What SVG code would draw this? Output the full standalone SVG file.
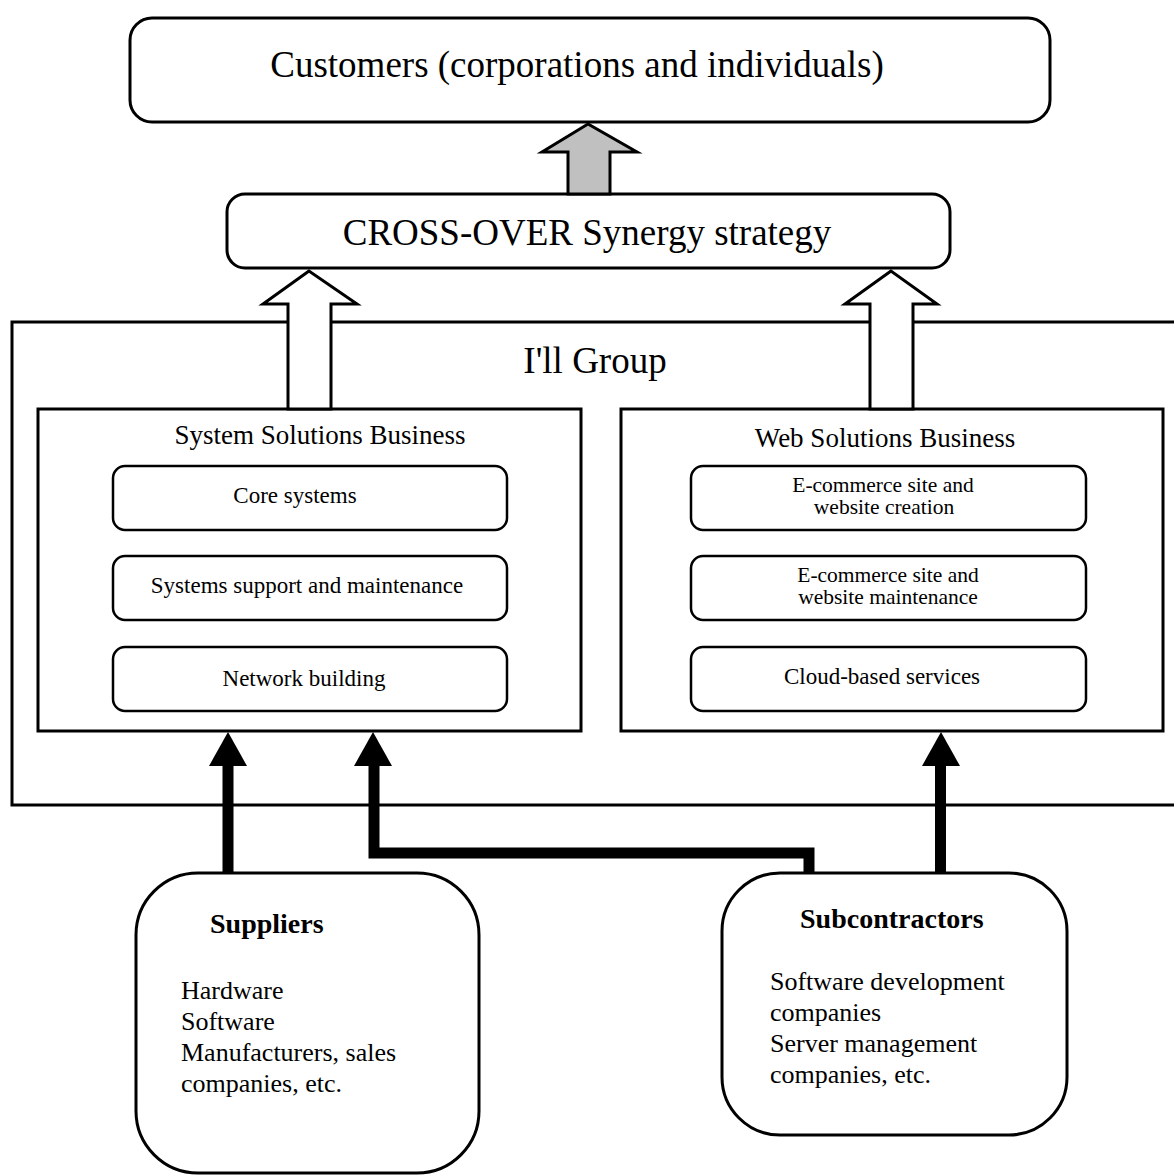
<svg xmlns="http://www.w3.org/2000/svg" width="1174" height="1175" viewBox="0 0 1174 1175">
<style>
text{font-family:"Liberation Serif","Times New Roman",serif;fill:#000}
.box{fill:#fff;stroke:#000;stroke-width:3}
.sub{fill:#fff;stroke:#000;stroke-width:2.5}
.big{font-size:37px;text-anchor:middle}
.hdr{font-size:27px;text-anchor:middle}
.item{font-size:23px;text-anchor:middle}
.item2{font-size:21.5px;text-anchor:middle}
.bold{font-size:28px;font-weight:bold}
.body{font-size:26px}
.hollow{fill:#fff;stroke:#000;stroke-width:3;stroke-linejoin:miter}
.black{fill:#000}
.thick{fill:none;stroke:#000;stroke-width:11;stroke-linejoin:miter}
</style>
<rect width="1174" height="1175" fill="#fff"/>
<g id="customers">
<rect class="box" x="130" y="18" width="920" height="104" rx="22"/>
<text class="big" x="577" y="77">Customers (corporations and individuals)</text>
</g>
<g id="ill-group">
<rect class="box" x="12" y="322" width="1175" height="483"/>
<text class="big" x="595" y="373">I'll Group</text>
</g>
<g id="crossover">
<rect class="box" x="227" y="194" width="723" height="74" rx="18"/>
<text class="big" x="587" y="245">CROSS-OVER Synergy strategy</text>
</g>
<g id="system-solutions">
<rect class="box" x="38" y="409" width="543" height="322"/>
<text class="hdr" x="320" y="444">System Solutions Business</text>
</g>
<g id="core-systems">
<rect class="sub" x="113" y="466" width="394" height="64" rx="12"/>
<text class="item" x="295" y="503">Core systems</text>
</g>
<g id="systems-support">
<rect class="sub" x="113" y="556" width="394" height="64" rx="12"/>
<text class="item" x="307" y="593">Systems support and maintenance</text>
</g>
<g id="network-building">
<rect class="sub" x="113" y="647" width="394" height="64" rx="12"/>
<text class="item" x="304" y="686">Network building</text>
</g>
<g id="web-solutions">
<rect class="box" x="621" y="409" width="542" height="322"/>
<text class="hdr" x="885" y="447">Web Solutions Business</text>
</g>
<g id="ecommerce-creation">
<rect class="sub" x="691" y="466" width="395" height="64" rx="12"/>
<text class="item2" x="883" y="492">E-commerce site and</text>
<text class="item2" x="884" y="514">website creation</text>
</g>
<g id="ecommerce-maintenance">
<rect class="sub" x="691" y="556" width="395" height="64" rx="12"/>
<text class="item2" x="888" y="582">E-commerce site and</text>
<text class="item2" x="888" y="604">website maintenance</text>
</g>
<g id="cloud-services">
<rect class="sub" x="691" y="647" width="395" height="64" rx="12"/>
<text class="item" x="882" y="684">Cloud-based services</text>
</g>
<g id="suppliers">
<rect class="box" x="136" y="873" width="343" height="300" rx="62"/>
<text class="bold" x="210" y="933">Suppliers</text>
<text class="body" x="181" y="999">Hardware</text>
<text class="body" x="181" y="1030">Software</text>
<text class="body" x="181" y="1061">Manufacturers, sales</text>
<text class="body" x="181" y="1092">companies, etc.</text>
</g>
<g id="subcontractors">
<rect class="box" x="722" y="873" width="345" height="262" rx="58"/>
<text class="bold" x="800" y="928">Subcontractors</text>
<text class="body" x="770" y="990">Software development</text>
<text class="body" x="770" y="1021">companies</text>
<text class="body" x="770" y="1052">Server management</text>
<text class="body" x="770" y="1083">companies, etc.</text>
</g>
<g id="connectors">
<polygon fill="#c0c0c0" stroke="#000" stroke-width="3" points="588,124 542,152 568,152 568,194 610,194 610,152 637,152"/>
<polygon class="hollow" points="309,271 263,304 288,304 288,409 331,409 331,304 357,304"/>
<polygon class="hollow" points="891,271 845,304 870,304 870,409 913,409 913,304 937,304"/>
<line x1="228" y1="873" x2="228" y2="764" stroke="#000" stroke-width="11"/>
<polygon class="black" points="228,732 209,766 247,766"/>
<polyline class="thick" points="809,873 809,853 374,853 374,764"/>
<polygon class="black" points="373,732 354,766 392,766"/>
<line x1="940.5" y1="873" x2="940.5" y2="764" stroke="#000" stroke-width="11"/>
<polygon class="black" points="941,732 922,766 960,766"/>
</g>
</svg>
